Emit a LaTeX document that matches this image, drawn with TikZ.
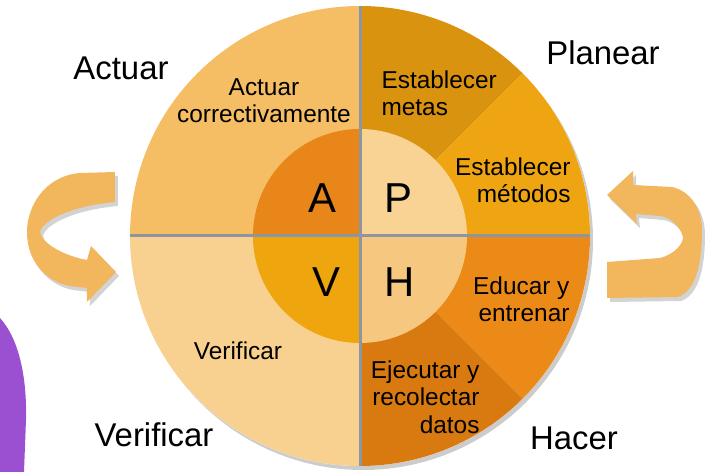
\documentclass[tikz,border=0pt]{standalone}
\usepackage{fontspec}
\setmainfont{Liberation Sans}
\usetikzlibrary{shadows}
\definecolor{actuarO}{RGB}{245,190,100}
\definecolor{actuarI}{RGB}{232,134,26}
\definecolor{metasC}{RGB}{218,147,14}
\definecolor{metodosC}{RGB}{238,165,17}
\definecolor{planI}{RGB}{248,211,148}
\definecolor{educarC}{RGB}{236,138,23}
\definecolor{ejecutarC}{RGB}{217,122,16}
\definecolor{hacerI}{RGB}{246,199,126}
\definecolor{verifO}{RGB}{248,208,143}
\definecolor{verifI}{RGB}{238,165,14}
\definecolor{arrowC}{RGB}{242,182,92}
\definecolor{divgrey}{RGB}{140,150,160}
\definecolor{slidepurple}{RGB}{155,80,210}
\begin{document}
\begin{tikzpicture}[x=1bp,y=1bp,
  outerlbl/.style={font=\fontsize{33}{36}\selectfont,anchor=base},
  stagelbl/.style={font=\fontsize{24.5}{27.5}\selectfont},
  letterlbl/.style={font=\fontsize{42}{44}\selectfont,anchor=base},
  divider/.style={draw=divgrey,line width=3bp},
  cyclearrow/.style={fill=arrowC,drop shadow={shadow xshift=3bp,shadow yshift=-4bp,opacity=.35}}]
% PDCA wheel, outer radius \R, inner radius \r
\def\R{230}
\def\r{107}
\useasboundingbox (-360,-236) rectangle (350,236);
% slide decoration, bottom left
\fill[slidepurple] (-360,-82) .. controls (-340,-104) and (-333,-144) .. (-334,-184)
 -- (-336,-236) -- (-360,-236) -- cycle;
% turning arrows
\path[cyclearrow] (-245,64) -- (-280,63)
 .. controls (-315,60) and (-333,30) .. (-333,4)
 .. controls (-333,-25) and (-315,-45) .. (-290,-50)
 -- (-273,-52) -- (-273,-66) -- (-244,-36) -- (-269,-10) -- (-273,-24)
 .. controls (-295,-20) and (-318,-8) .. (-320,4)
 .. controls (-318,15) and (-290,30) .. (-245,34) -- cycle;
\path[cyclearrow] (247,41) -- (273,65) -- (273,51) -- (312,49)
 .. controls (330,45) and (342,28) .. (342,5)
 .. controls (342,-30) and (335,-55) .. (318,-61)
 -- (247,-62) -- (247,-26) -- (300,-22)
 .. controls (315,-18) and (323,-8) .. (323,-1)
 .. controls (320,10) and (310,19) .. (300,20)
 -- (276,22) -- (277,12) -- cycle;
% wheel
\path[fill=white,drop shadow={shadow xshift=3bp,shadow yshift=-4bp,opacity=.4}] (0,0) circle (\R);
\fill[actuarO] (0,0) -- (90:\R) arc (90:180:\R) -- cycle;
\fill[metasC] (0,0) -- (45:\R) arc (45:90:\R) -- cycle;
\fill[metodosC] (0,0) -- (0:\R) arc (0:45:\R) -- cycle;
\fill[educarC] (0,0) -- (-45:\R) arc (-45:0:\R) -- cycle;
\fill[ejecutarC] (0,0) -- (-90:\R) arc (-90:-45:\R) -- cycle;
\fill[verifO] (0,0) -- (180:\R) arc (180:270:\R) -- cycle;
\fill[actuarI] (0,0) -- (90:\r) arc (90:180:\r) -- cycle;
\fill[planI] (0,0) -- (0:\r) arc (0:90:\r) -- cycle;
\fill[hacerI] (0,0) -- (-90:\r) arc (-90:0:\r) -- cycle;
\fill[verifI] (0,0) -- (180:\r) arc (180:270:\r) -- cycle;
\draw[divider] (-\R,0) -- (\R,0);
\draw[divider] (0,-\R) -- (0,\R);
% letters
\node[letterlbl] (la) at (-38,23) {A};
\node[letterlbl] (lp) at (38,23) {P};
\node[letterlbl] (lv) at (-34,-61) {V};
\node[letterlbl] (lh) at (40,-61) {H};
% stage texts
\node[stagelbl,align=center] (corregir) at (-96,135) {Actuar\\correctivamente};
\node[stagelbl,align=left,anchor=west] (metas) at (18,143) {Establecer\\metas};
\node[stagelbl,align=right,anchor=east] (metodos) at (214,56) {Establecer\\métodos};
\node[stagelbl,align=right,anchor=east] (educar) at (213,-63) {Educar y\\entrenar};
\node[stagelbl,align=right,anchor=east] (ejecutar) at (123,-161) {Ejecutar y\\recolectar\\datos};
\node[stagelbl,anchor=base] (verif) at (-122,-124) {Verificar};
% phase names
\node[outerlbl] (actuar) at (-239,156) {Actuar};
\node[outerlbl] (planear) at (243,171) {Planear};
\node[outerlbl] (verificar) at (-206,-211) {Verificar};
\node[outerlbl] (hacer) at (214,-214) {Hacer};
\end{tikzpicture}
\end{document}
